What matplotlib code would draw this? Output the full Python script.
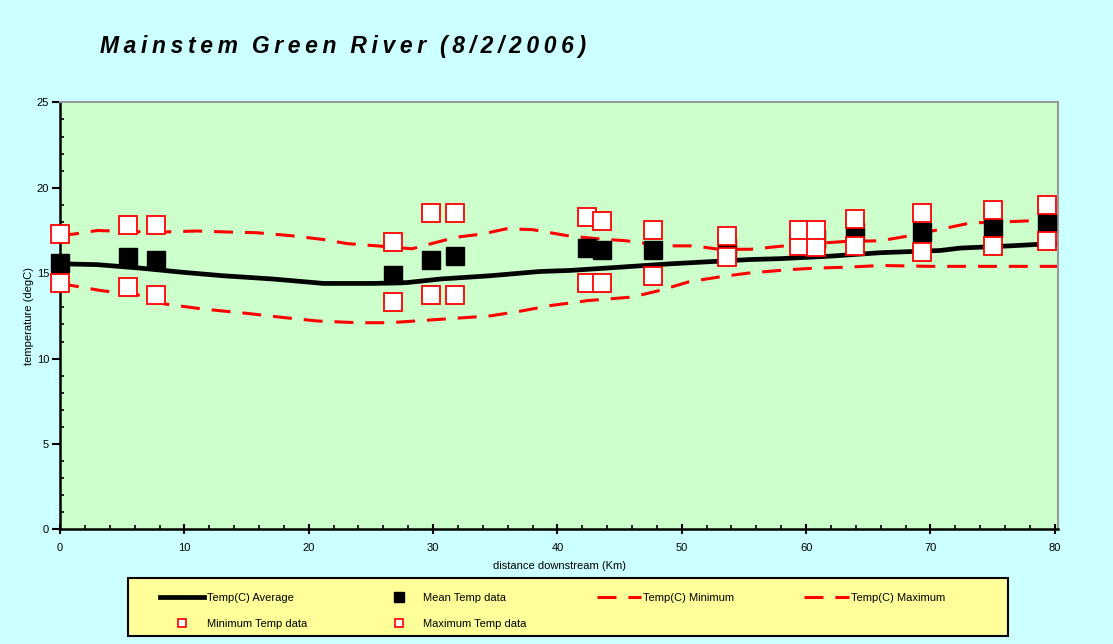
import matplotlib
matplotlib.use('Agg')
import matplotlib.pyplot as plt
from matplotlib.lines import Line2D
from matplotlib.patches import Rectangle
from matplotlib.ticker import MultipleLocator

plt.rcParams['font.family'] = ['Liberation Sans', 'DejaVu Sans']

# measured data (distance downstream in km)
site_km = [0, 5.5, 7.7, 26.8, 29.8, 31.8, 42.4, 43.6, 47.7, 53.6, 59.4, 60.8, 63.9, 69.3, 75.0, 79.4]
mean_temp = [15.6, 15.95, 15.75, 14.9, 15.75, 16.0, 16.45, 16.37, 16.37, 16.5, 17.0, 17.0, 17.4, 17.4, 17.65, 17.94]
min_temp = [14.4, 14.2, 13.75, 13.3, 13.75, 13.75, 14.45, 14.45, 14.85, 15.94, 16.6, 16.55, 16.6, 16.25, 16.6, 16.9]
max_temp = [17.3, 17.8, 17.8, 16.85, 18.5, 18.5, 18.27, 18.04, 17.5, 17.15, 17.55, 17.55, 18.2, 18.55, 18.7, 18.97]

# model curves
avg_km = [0, 3, 6.4, 9.9, 13.1, 17.1, 21.2, 25.2, 27.9, 30.6, 34.6, 38.6, 41, 45, 49.1, 55.5,
          57.9, 62, 66, 70.8, 72.4, 76.4, 80.3]
avg_temp = [15.55, 15.5, 15.3, 15.05, 14.85, 14.66, 14.4, 14.4, 14.45, 14.66, 14.85, 15.1, 15.16, 15.35,
            15.55, 15.8, 15.85, 16.0, 16.2, 16.33, 16.47, 16.6, 16.75]

lo_km = [0, 1, 3.3, 6.5, 8.4, 11.5, 15, 18, 20.7, 23.9, 26.5, 30.6, 34.6, 37.2, 39.4, 42.5, 46,
         48.3, 50.6, 53.2, 55.3, 58.5, 60.8, 63.3, 66, 70, 80.3]
lo_temp = [14.4, 14.27, 13.98, 13.7, 13.2, 12.9, 12.65, 12.4, 12.2, 12.1, 12.1, 12.3, 12.5, 12.8, 13.1,
           13.4, 13.6, 14.0, 14.5, 14.8, 15.0, 15.2, 15.3, 15.35, 15.45, 15.4, 15.4]

hi_km = [0, 1, 3, 5, 7.8, 11, 14, 15.8, 18.5, 21.2, 23.1, 25.5, 28.3, 30.5, 31.8, 34, 35.9, 38, 41,
         43.5, 45.5, 48.5, 51, 53, 55.5, 58.3, 61, 63, 66, 68, 71, 73.2, 76.8, 79, 80.3]
hi_temp = [17.25, 17.28, 17.5, 17.45, 17.4, 17.47, 17.4, 17.37, 17.2, 16.97, 16.73, 16.6, 16.43, 16.85,
           17.1, 17.3, 17.6, 17.55, 17.17, 17.0, 16.9, 16.6, 16.6, 16.4, 16.4, 16.6, 16.75, 16.85, 16.9,
           17.15, 17.6, 17.94, 18.03, 18.1, 18.1]

title_words = ['Mainstem', 'Green', 'River', '(8/2/2006)']

fig = plt.figure(figsize=(11.13, 6.44), dpi=100)
fig.patch.set_facecolor('#CCFFFF')
ax = fig.add_axes([0.054, 0.178, 0.897, 0.663])
ax.set_facecolor('#CCFFCC')

dash = (6.2, 3.9)
ax.plot(avg_km, avg_temp, color='black', lw=3.4, zorder=2)
ax.plot(lo_km, lo_temp, color='red', lw=2.2, dashes=dash, zorder=2)
ax.plot(hi_km, hi_temp, color='red', lw=2.2, dashes=dash, zorder=2)
ax.plot(site_km, mean_temp, 's', color='black', ms=12.5, mec='black', zorder=3, clip_on=False)
ax.plot(site_km, min_temp, 's', mfc='white', mec='red', mew=1.3, ms=12.5, zorder=4, clip_on=False)
ax.plot(site_km, max_temp, 's', mfc='white', mec='red', mew=1.3, ms=12.5, zorder=4, clip_on=False)

ax.set_xlim(0, 80.3)
ax.set_ylim(0, 25)
ax.xaxis.set_major_locator(MultipleLocator(10))
ax.xaxis.set_minor_locator(MultipleLocator(2))
ax.yaxis.set_major_locator(MultipleLocator(5))
ax.yaxis.set_minor_locator(MultipleLocator(1))
ax.tick_params(axis='x', which='major', direction='inout', length=7, width=1.5, labelsize=8, pad=6)
ax.tick_params(axis='x', which='minor', direction='in', length=3, width=1.2)
ax.tick_params(axis='y', which='major', direction='out', length=6, width=1.5, labelsize=8, pad=2)
ax.tick_params(axis='y', which='minor', direction='in', length=3, width=1.2)
ax.tick_params(top=False, right=False, which='both')

for s in ['left', 'bottom']:
    ax.spines[s].set_linewidth(1.8)
    ax.spines[s].set_color('black')
for s in ['top', 'right']:
    ax.spines[s].set_linewidth(1.5)
    ax.spines[s].set_color('#999999')

ax.set_xlabel('distance downstream (Km)', fontsize=8, labelpad=6)
ax.set_ylabel('temperature (degC)', fontsize=8, labelpad=2)

# spaced-out title: letters joined by thin spaces, words by three of them
spaced = '\u2009\u2009\u2009'.join('\u2009'.join(w) for w in title_words[:3])
spaced += '\u2009\u2009\u2009' + '\u2009'.join(title_words[3])
fig.text(0.09, 0.928, spaced, fontsize=16.5, fontweight='bold',
         fontstyle='italic', va='center', ha='left')

# legend box
fig.patches.append(Rectangle((128 / 1113, 1 - 636 / 644), 880 / 1113, 58 / 644,
                             transform=fig.transFigure, facecolor='#FFFF99',
                             edgecolor='black', lw=1.5, zorder=0))

handles = [
    Line2D([], [], color='black', lw=3.4),
    Line2D([], [], ls='none', marker='s', mfc='white', mec='red', mew=1.2, ms=6),
    Line2D([], [], ls='none', marker='s', color='black', ms=7),
    Line2D([], [], ls='none', marker='s', mfc='white', mec='red', mew=1.2, ms=6),
    Line2D([], [], color='red', lw=2.2, dashes=(6.2, 3.9)),
    Line2D([], [], color='red', lw=2.2, dashes=(6.2, 3.9)),
]
labels = ['Temp(C) Average', 'Minimum Temp data', 'Mean Temp data', 'Maximum Temp data',
          'Temp(C) Minimum', 'Temp(C) Maximum']
leg = fig.legend(handles, labels, ncol=4, loc='upper left', mode='expand',
                 bbox_to_anchor=(160 / 1113, 1 - 599 / 644, 785 / 1113, 0.01), fontsize=8,
                 frameon=False, handlelength=4.0, handletextpad=0.2, borderpad=0,
                 labelspacing=1.45, borderaxespad=0)

fig.savefig('out.png', dpi=100, facecolor=fig.get_facecolor())
